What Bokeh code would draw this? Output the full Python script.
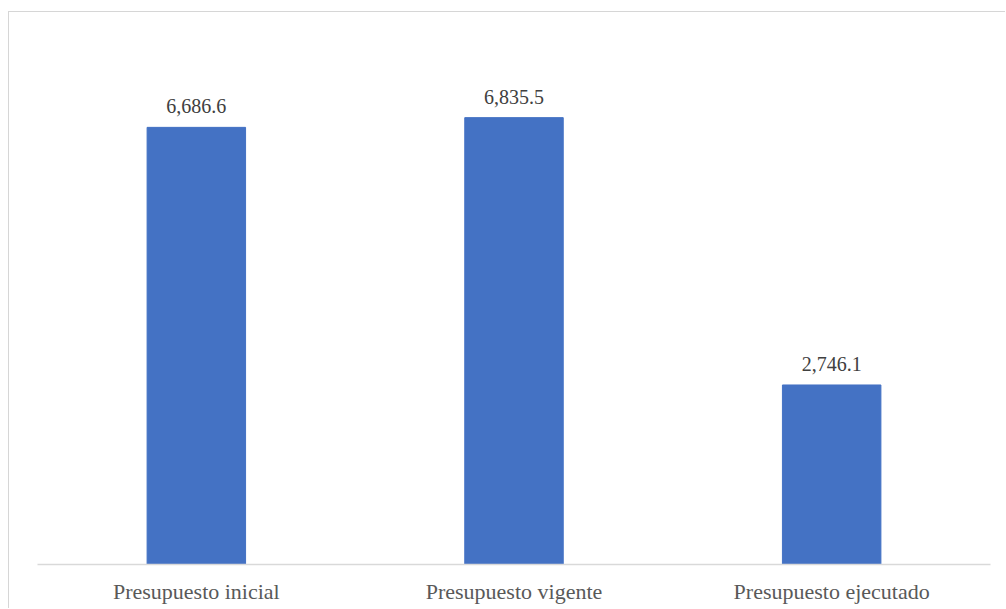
from bokeh.plotting import figure
from bokeh.models import ColumnDataSource, Range1d
from bokeh.embed import file_html
from bokeh.resources import INLINE
from bokeh.core.properties import value

categories = ["Presupuesto inicial", "Presupuesto vigente", "Presupuesto ejecutado"]
values = [6686.6, 6835.5, 2746.1]
labels = ["6,686.6", "6,835.5", "2,746.1"]

src = ColumnDataSource(dict(cat=categories, val=values, lab=labels))

p = figure(x_range=categories, y_range=Range1d(0, 8000), width=997, height=597,
           output_backend="svg", toolbar_location=None,
           min_border_left=28, min_border_right=16, min_border_top=29, min_border_bottom=45)
p.styles = {"margin-left": "8px", "margin-top": "11px",
            "border-left": "1px solid #d6d6d6", "border-top": "1px solid #d6d6d6"}

p.vbar(x="cat", top="val", width=0.31, source=src, color="#4472C4")
p.text(x="cat", y="val", text="lab", source=src, text_align="center",
       text_baseline="alphabetic", y_offset=-21,
       text_font=value("Liberation Serif"), text_font_size="20px", text_color="#404040")

p.yaxis.visible = False
p.xgrid.grid_line_color = None
p.ygrid.grid_line_color = None
p.outline_line_color = None
p.x_range.range_padding = 0.0

ax = p.xaxis[0]
ax.axis_line_color = "#d9d9d9"
ax.axis_line_width = 1.5
ax.major_tick_line_color = None
ax.minor_tick_line_color = None
ax.major_label_text_font = "Liberation Serif"
ax.major_label_text_font_size = "22px"
ax.major_label_text_color = "#595959"
ax.major_label_standoff = 8

open("out.html", "w").write(file_html(p, INLINE))
